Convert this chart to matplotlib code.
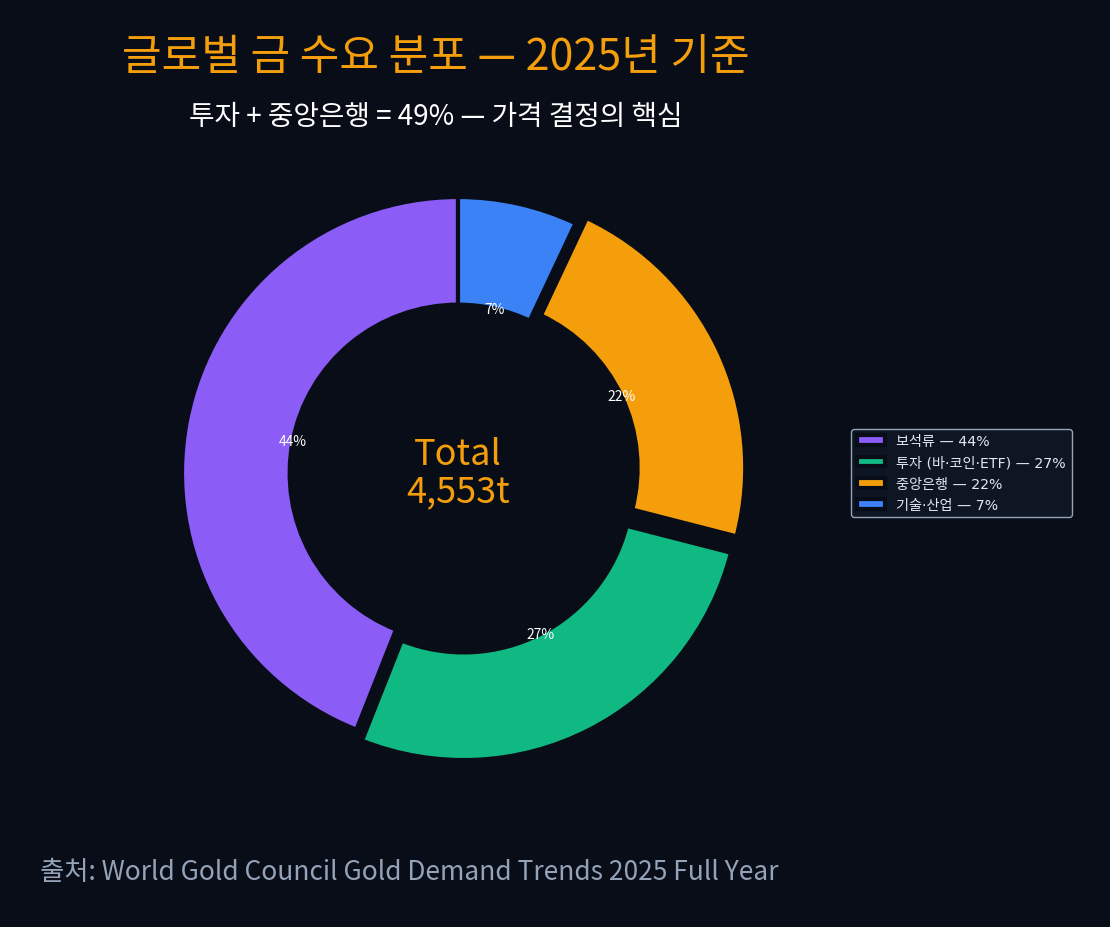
import numpy as np
import matplotlib
matplotlib.use('Agg')
import matplotlib.pyplot as plt

plt.rcParams['font.family'] = ['Noto Sans CJK KR', 'DejaVu Sans']

# data
labels = ['보석류', '투자 (바·코인·ETF)', '중앙은행', '기술·산업']
shares = [44, 27, 22, 7]
colors = ['#8b5cf6', '#10b981', '#f59e0b', '#3b82f6']
explode = [0, 0.045, 0.045, 0]
total_tonnes = 4553

bg = '#080d18'
latin_first = ['DejaVu Sans', 'Noto Sans CJK KR']

fig = plt.figure(figsize=(11.1, 9.28), dpi=100, facecolor=bg)
ax = fig.add_axes([113 / 1110, 109 / 928, 690 / 1110, 690 / 928])
ax.set_facecolor(bg)

wedges, texts, autotexts = ax.pie(
    shares, colors=colors, explode=explode, startangle=90,
    autopct='%1.0f%%', pctdistance=0.61,
    wedgeprops=dict(width=0.39, edgecolor=bg, linewidth=3),
    textprops=dict(color='white', fontsize=10))
ax.set_xlim(-1.25, 1.25)
ax.set_ylim(-1.25, 1.25)
ax.set_aspect('equal')

ax.text(0, 0, 'Total\n{:,}t'.format(total_tonnes), ha='center', va='center',
        color='#f59e0b', fontsize=26, linespacing=1.05)

leg_labels = ['{} — {}%'.format(l, s) for l, s in zip(labels, shares)]
leg = fig.legend(wedges, leg_labels, loc='center left',
                 bbox_to_anchor=(844 / 1110, (928 - 474) / 928),
                 prop=dict(family=latin_first, size=10.2),
                 facecolor='#0f1623', edgecolor='#94a3b8',
                 labelcolor='#e2e8f0', framealpha=1)

fig.text(436 / 1110, 1 - 58 / 928, '글로벌 금 수요 분포 — 2025년 기준',
         ha='center', va='center', color='#f59e0b', fontsize=31)
fig.text(436 / 1110, 1 - 117 / 928, '투자 + 중앙은행 = 49% — 가격 결정의 핵심',
         ha='center', va='center', color='white', fontsize=20)
fig.text(40 / 1110, 1 - 873 / 928,
         '출처: World Gold Council Gold Demand Trends 2025 Full Year',
         ha='left', va='center', color='#94a3b8', fontsize=19)

fig.savefig('out.png', dpi=100, facecolor=bg)
